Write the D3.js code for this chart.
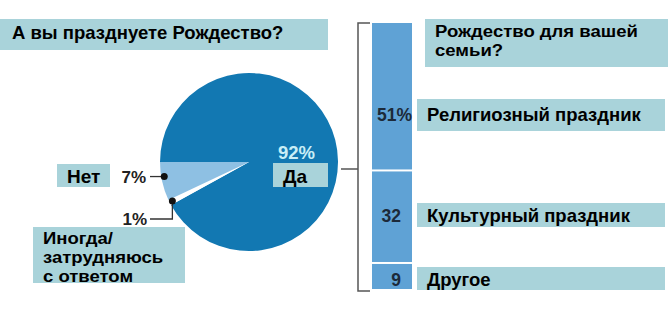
<!DOCTYPE html>
<html>
<head>
<meta charset="utf-8">
<script src="https://cdn.jsdelivr.net/npm/d3@7"></script>
<style>
  body { margin: 0; background: #fff; }
  text { font-family: "Liberation Sans", Arial, sans-serif; font-weight: bold; }
</style>
</head>
<body>
<script>
// данные: круговая диаграмма
let pieLabels = ["Да", "Иногда/ затрудняюсь с ответом", "Нет"]
let pieValues = [92, 1, 7]
let pieColors = ["#1278b2", "#ffffff", "#8ec0e3"]

// данные: столбик
let barLabels = ["Религиозный праздник", "Культурный праздник", "Другое"]
let barValues = [51, 32, 9]
let barTexts = ["51%", "32", "9"]

let width = 668, height = 312
let svg = d3.select("body").append("svg")
    .attr("width", width)
    .attr("height", height)

let boxColor = "#a9d3da"

function box(x, y, w, h) {
    svg.append("rect")
        .attr("x", x).attr("y", y)
        .attr("width", w).attr("height", h)
        .attr("fill", boxColor)
}

// многострочная подпись: шрифт чуть растянут по ширине, как в оригинале
function multiline(x, y, lines, step) {
    let g = svg.append("g")
        .attr("transform", `translate(${x}, ${y}) scale(1.09, 1)`)
    g.selectAll("text")
        .data(lines)
        .enter()
        .append("text")
        .attr("x", 0)
        .attr("y", (d, i) => i * step)
        .style("font-size", "17px")
        .text(d => d)
}

// заголовок
box(0, 19, 328, 31)
svg.append("text")
    .attr("x", 12).attr("y", 38.5)
    .style("font-size", "18.5px")
    .text("А вы празднуете Рождество?")

// круг
let cx = 249, cy = 162, r = 89
let pie = d3.pie().sort(null)
    .startAngle(-Math.PI / 2)
    .endAngle(3 * Math.PI / 2)
let arcs = pie(pieValues)
let arc = d3.arc().innerRadius(0).outerRadius(r)
let gPie = svg.append("g").attr("transform", `translate(${cx}, ${cy})`)
gPie.selectAll("path")
    .data(arcs)
    .enter()
    .append("path")
    .attr("d", arc)
    .attr("fill", (d, i) => pieColors[i])

// точки на краю круга
let edge = d3.arc().innerRadius(r - 3).outerRadius(r - 3)
let aNo = arcs[2].endAngle - 0.17
let pNo = edge.centroid({startAngle: aNo, endAngle: aNo})
let pSome = edge.centroid(arcs[1])
let dotNo = [cx + pNo[0], cy + pNo[1]]
let dotSome = [cx + pSome[0], cy + pSome[1]]

svg.append("path")
    .attr("d", `M${dotNo[0]},${dotNo[1]}H150`)
    .attr("stroke", "#333").attr("stroke-width", 1.3).attr("fill", "none")
svg.append("path")
    .attr("d", `M${dotSome[0]},${dotSome[1]}V219H150`)
    .attr("stroke", "#333").attr("stroke-width", 1.3).attr("fill", "none")
svg.selectAll(".dot")
    .data([dotNo, dotSome])
    .enter()
    .append("circle")
    .attr("cx", d => d[0]).attr("cy", d => d[1])
    .attr("r", 3.5).attr("fill", "#111")

// подписи круга
svg.append("text")
    .attr("x", 146).attr("y", dotNo[1] + 6)
    .attr("text-anchor", "end")
    .style("font-size", "17px").attr("fill", "#222")
    .text(pieValues[2] + "%")
box(57, 164, 53, 23)
svg.append("text")
    .attr("x", 67).attr("y", 182.5)
    .style("font-size", "19px")
    .text(pieLabels[2])

svg.append("text")
    .attr("x", 147).attr("y", 225)
    .attr("text-anchor", "end")
    .style("font-size", "17px").attr("fill", "#222")
    .text(pieValues[1] + "%")
box(33, 227, 152, 56)
multiline(43, 243.5, ["Иногда/", "затрудняюсь", "с ответом"], 19.3)

svg.append("text")
    .attr("x", 278).attr("y", 159)
    .style("font-size", "18.5px").attr("fill", "#c9eef6")
    .text(pieValues[0] + "%")
box(273, 163, 55, 24)
svg.append("text")
    .attr("x", 283).attr("y", 182.5)
    .style("font-size", "19px")
    .text(pieLabels[0])

// скобка
let barTop = 23, barBottom = 289
svg.append("path")
    .attr("d", `M341,169H358M370,${barTop}H358V${barBottom + 2}H370`)
    .attr("stroke", "#555").attr("stroke-width", 1.5).attr("fill", "none")

// столбик
let total = d3.sum(barValues)
let scaleY = d3.scaleLinear()
    .domain([0, total])
    .range([barTop, barBottom])
let stacked = []
let acc = 0
for (let v of barValues) {
    stacked.push({y0: acc, y1: acc + v})
    acc += v
}
svg.selectAll(".seg")
    .data(stacked)
    .enter()
    .append("rect")
    .attr("x", 372).attr("width", 40)
    .attr("y", d => scaleY(d.y0) + (d.y0 > 0 ? 1 : 0))
    .attr("height", d => scaleY(d.y1) - scaleY(d.y0) - (d.y0 > 0 ? 1 : 0) - (d.y1 < total ? 1 : 0))
    .attr("fill", "#5fa2d5")

// подписи столбика
let labelY = [121, 222, 286]
let valueX = [412, 401, 401]
let boxesY = [[99, 32], [203, 24], [267, 23]]
svg.selectAll(".val")
    .data(barTexts)
    .enter()
    .append("text")
    .attr("x", (d, i) => valueX[i])
    .attr("y", (d, i) => labelY[i])
    .attr("text-anchor", "end")
    .style("font-size", "17.5px").attr("fill", "#1c2a3a")
    .text(d => d)

box(425, 19, 243, 48)
multiline(435, 37, ["Рождество для вашей", "семьи?"], 19.3)

barLabels.forEach((lab, i) => {
    box(417, boxesY[i][0], 248, boxesY[i][1])
    svg.append("text")
        .attr("x", 427).attr("y", labelY[i])
        .style("font-size", "18.5px")
        .text(lab)
})
</script>
</body>
</html>
